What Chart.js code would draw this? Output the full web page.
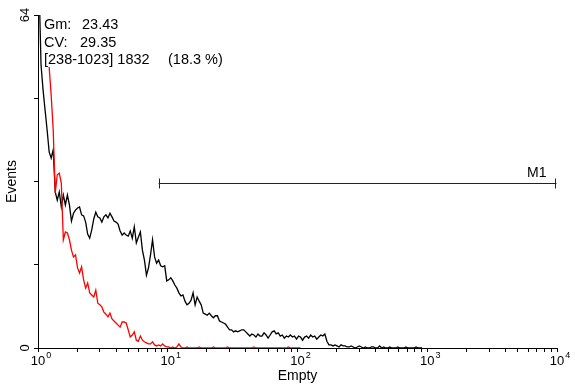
<!DOCTYPE html>
<html>
<head>
<meta charset="utf-8">
<script src="https://cdn.jsdelivr.net/npm/chart.js@4.4.1/dist/chart.umd.min.js"></script>
<style>
html, body { margin: 0; padding: 0; background: #fff; }
#wrap { width: 575px; height: 386px; }
</style>
</head>
<body>
<div id="wrap"><canvas id="histChart" width="575" height="386"></canvas></div>
<script>
// Гістограма: 1024 канали на 4 декади, згруповано по 4 канали
const CHANNELS_PER_BIN = 4;
const CHANNELS_PER_DECADE = 256;

// Зразок (чорна лінія), подій на бін
const blackCounts = [
    70, 54.4, 49.6, 45.7, 41.9, 37.7, 36.5, 38.1, 30.0, 28.4,
    30.0, 27.1, 29.4, 27.5, 29.4, 27.5, 24.4, 25.9, 26.5, 26.9,
    27.1, 25.6, 25.4, 24.2, 21.9, 21.1, 22.7, 24.8, 26.1, 25.2,
    25.0, 24.2, 25.2, 25.6, 25.0, 25.9, 25.2, 24.4, 24.2, 23.8,
    22.5, 21.7, 22.1, 21.7, 21.5, 22.5, 21.1, 23.3, 20.2, 21.3,
    22.3, 18.8, 16.9, 14.0, 15.4, 17.9, 20.8, 17.5, 16.3, 16.9,
    15.8, 15.6, 15.8, 12.9, 13.1, 13.5, 12.9, 12.1, 11.5, 10.6,
    10.0, 10.2, 9.0, 8.3, 8.6, 9.2, 10.6, 8.3, 9.8, 9.0,
    8.3, 6.7, 6.5, 6.3, 6.7, 6.2, 5.8, 6.2, 6.2, 5.2,
    5.0, 4.8, 4.6, 4.0, 3.5, 3.5, 3.1, 3.3, 3.1, 3.3,
    3.5, 3.5, 3.1, 2.7, 2.3, 2.7, 2.5, 2.1, 2.7, 2.3,
    2.3, 2.9, 2.5, 1.9, 2.5, 3.1, 3.3, 2.7, 2.9, 2.3,
    2.5, 1.9, 2.3, 2.1, 2.5, 2.1, 2.3, 1.7, 2.3, 2.1,
    1.5, 2.1, 2.3, 1.9, 2.5, 2.1, 2.3, 1.7, 2.1, 2.5,
    2.3, 2.7, 1.3, 0.6, 0.6, 0.4, 0.6, 0.4, 0.2, 0.6,
    0.4, 0.4, 0.2, 0.2, 0.4, 0.2, 0, 0.2, 0.4, 0.2,
    0, 0.2, 0, 0, 0.2, 0.2, 0, 0, 0.4, 0,
    0.2, 0, 0, 0.2, 0, 0, 0, 0.2, 0, 0,
    0, 0.2, 0, 0, 0, 0, 0.2, 0, 0, 0
];

// Контроль (червона лінія)
const redCounts = [
    null, null, null, null, null, 54.0, 48.6, 41.9, 29.8, 33.3,
    33.6, 31.7, 20.8, 22.3, 22.1, 20.8, 18.8, 17.5, 17.9, 15.4,
    14.4, 15.6, 13.1, 11.5, 12.5, 10.6, 10.2, 9.8, 11.1, 8.6,
    8.3, 7.9, 6.9, 6.5, 6.0, 6.7, 5.6, 5.2, 4.8, 4.4,
    4.0, 5.0, 5.0, 4.8, 3.5, 2.1, 2.5, 3.1, 1.5, 1.3,
    2.3, 1.5, 1.2, 1.0, 0.8, 0.8, 1.2, 0.6, 0.4, 0.6,
    0.4, 0.8, 0.4, 0.2, 0.2, 0, 0.2, 0, 0.2, 0.8,
    0.2, 0, 0, 0.2, 0, 0, 0, 0, 0, 0.2,
    0, 0, 0, 0, 0, 0, 0.2, 0, 0, 0,
    0, 0, 0, 0.2, 0, 0, 0, 0, 0, 0,
    0, 0, 0, 0, 0, 0, 0.2, 0, 0, 0,
    0, 0, 0, 0, 0, 0, 0, 0, 0, 0,
    0, 0, 0, 0.2, 0, 0, 0, 0, 0, 0
];

const decades = [0, 1, 2, 3, 4];
const minorSteps = [1, 2, 3, 4, 5, 6, 7, 8, 9];
const yTicks = [0, 16, 32, 48, 64];
const yLabels = [0, 64];
const statLines = [
    ['Gm:', '23.43', 82],
    ['CV:', '29.35', 80],
    ['[238-1023] 1832', '(18.3 %)', 168]
];
const marker = { label: 'M1', fromChannel: 238, toChannel: 1023, level: 31.7 };

const FONT = '"Liberation Sans", Arial, sans-serif';

function binToX(i) {
    return Math.pow(10, (i * CHANNELS_PER_BIN + CHANNELS_PER_BIN / 2) / CHANNELS_PER_DECADE);
}
function channelToX(ch) {
    return Math.pow(10, ch / CHANNELS_PER_DECADE);
}

const xTickValues = [];
decades.forEach(d => {
    minorSteps.forEach(m => {
        const v = m * Math.pow(10, d);
        if (v <= 10000) xTickValues.push(v);
    });
});

// Підписи осей, статистика і маркер M1
const overlay = {
    id: 'overlay',
    afterDraw(chart) {
        const { ctx, scales: { x, y } } = chart;
        ctx.save();
        ctx.fillStyle = '#000';

        decades.forEach(d => {
            const px = x.getPixelForValue(Math.pow(10, d));
            ctx.font = '13px ' + FONT;
            ctx.textAlign = 'center';
            ctx.textBaseline = 'alphabetic';
            ctx.fillText('10', px, 365);
            const w = ctx.measureText('10').width;
            ctx.font = '9px ' + FONT;
            ctx.textAlign = 'left';
            ctx.fillText(String(d), px + w / 2 + 1, 358);
        });

        ctx.font = '13px ' + FONT;
        yLabels.forEach(v => {
            const py = y.getPixelForValue(v);
            ctx.save();
            ctx.translate(29, py);
            ctx.rotate(-Math.PI / 2);
            ctx.textAlign = 'center';
            ctx.textBaseline = 'alphabetic';
            ctx.fillText(String(v), 0, 0);
            ctx.restore();
        });

        ctx.font = '14.5px ' + FONT;
        ctx.textAlign = 'left';
        statLines.forEach((line, i) => {
            const base = 29 + i * 17.5;
            ctx.fillText(line[0], 44, base);
            ctx.fillText(line[1], line[2], base);
        });

        const x0 = x.getPixelForValue(channelToX(marker.fromChannel));
        const x1 = x.getPixelForValue(channelToX(marker.toChannel));
        const my = Math.round(y.getPixelForValue(marker.level)) + 0.5;
        ctx.strokeStyle = '#222';
        ctx.lineWidth = 1;
        ctx.beginPath();
        ctx.moveTo(x0, my); ctx.lineTo(x1, my);
        ctx.moveTo(Math.round(x0) + 0.5, my - 5); ctx.lineTo(Math.round(x0) + 0.5, my + 5);
        ctx.moveTo(Math.round(x1) - 0.5, my - 5); ctx.lineTo(Math.round(x1) - 0.5, my + 5);
        ctx.stroke();
        ctx.font = '14px ' + FONT;
        ctx.textAlign = 'right';
        ctx.fillText(marker.label, x1 - 10, my - 7);

        ctx.restore();
    }
};

new Chart(document.getElementById('histChart'), {
    type: 'line',
    data: {
        datasets: [
            {
                label: 'Control',
                data: redCounts.map((v, i) => ({ x: binToX(i), y: v })),
                borderColor: '#ff0000',
                order: 0
            },
            {
                label: 'Sample',
                data: blackCounts.map((v, i) => ({ x: binToX(i), y: v })),
                borderColor: '#000000',
                order: 1
            }
        ]
    },
    options: {
        responsive: false,
        animation: false,
        devicePixelRatio: 1,
        layout: { padding: { top: 15, right: 18, left: 0, bottom: 0 } },
        elements: {
            point: { radius: 0 },
            line: { borderWidth: 1.3, tension: 0, fill: false }
        },
        plugins: {
            legend: { display: false },
            tooltip: { enabled: false }
        },
        scales: {
            x: {
                type: 'logarithmic',
                min: 1,
                max: 10000,
                afterBuildTicks(scale) {
                    scale.ticks = xTickValues.map(v => ({ value: v }));
                },
                afterFit(scale) { scale.height = 38; },
                ticks: { display: false },
                grid: { drawOnChartArea: false, drawTicks: true, tickLength: 4, color: '#000' },
                border: { display: true, color: '#000', width: 1 },
                title: {
                    display: true,
                    text: 'Empty',
                    color: '#000',
                    font: { size: 14, family: FONT },
                    padding: 1
                }
            },
            y: {
                min: 0,
                max: 64,
                afterBuildTicks(scale) {
                    scale.ticks = yTicks.map(v => ({ value: v }));
                },
                afterFit(scale) { scale.width = 38; },
                ticks: { display: false },
                grid: { drawOnChartArea: false, drawTicks: true, tickLength: 4, color: '#000' },
                border: { display: true, color: '#000', width: 1 },
                title: {
                    display: true,
                    text: 'Events',
                    color: '#000',
                    font: { size: 14, family: FONT },
                    padding: 4
                }
            }
        }
    },
    plugins: [overlay]
});
</script>
</body>
</html>
